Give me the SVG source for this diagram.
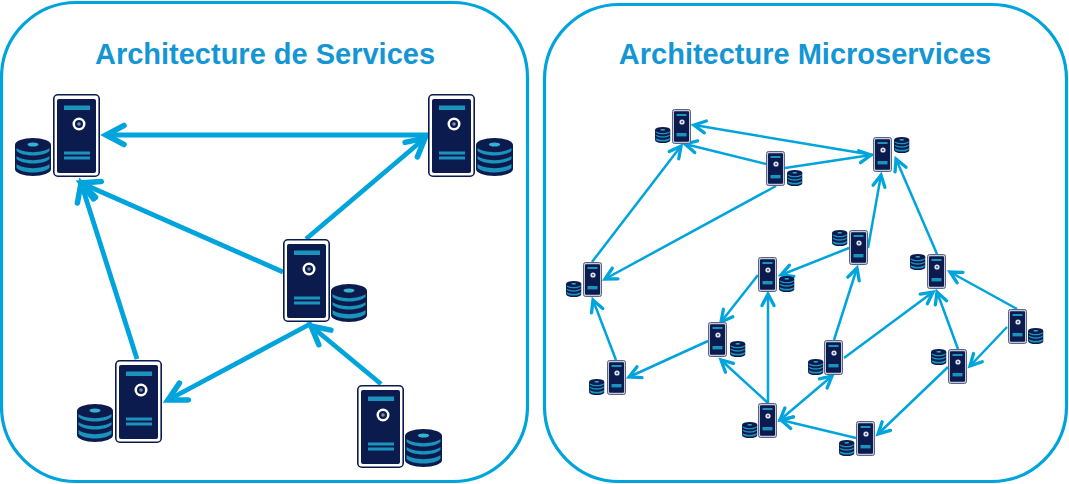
<svg xmlns="http://www.w3.org/2000/svg" width="1069" height="484" viewBox="0 0 1069 484">
<style>
.panel{fill:#fff;stroke:#00a4dc;stroke-width:3.2}
.title{font-family:"Liberation Sans",Arial,sans-serif;font-weight:bold;font-size:29px;fill:#1596d4;text-anchor:middle}
.big{fill:none;stroke:#00a4dc;stroke-width:4.8;marker-end:url(#hb)}
.sm{fill:none;stroke:#00a4dc;stroke-width:2.5;marker-end:url(#hs)}
.navy{fill:#0b1b4d}
.teal{fill:#1b93bd}
</style>
<defs>
<marker id="hb" markerUnits="userSpaceOnUse" markerWidth="30" markerHeight="30" refX="22" refY="15" orient="auto-start-reverse" viewBox="0 0 30 30">
<path d="M4 5.5L22 15L4 24.5" fill="none" stroke="#00a4dc" stroke-width="5.5" stroke-linecap="round"/>
</marker>
<marker id="hs" markerUnits="userSpaceOnUse" markerWidth="20" markerHeight="20" refX="13.5" refY="10" orient="auto-start-reverse" viewBox="0 0 20 20">
<path d="M2 4L13.5 10L2 16" fill="none" stroke="#00a4dc" stroke-width="3.3" stroke-linecap="round"/>
</marker>
<symbol id="srv" viewBox="0 0 47 83" preserveAspectRatio="none">
<rect x="0.8" y="0.8" width="45.4" height="81.4" rx="4" fill="#fff" stroke="#0b1b4d" stroke-width="1.6"/>
<rect x="4" y="5" width="39" height="74" rx="2" class="navy"/>
<rect x="11" y="11.5" width="26" height="4.5" class="teal"/>
<circle cx="26" cy="30" r="6.5" fill="#fff"/>
<circle cx="26" cy="30" r="4" class="navy"/>
<circle cx="26" cy="30" r="1.8" fill="#7d8fb0"/>
<rect x="11" y="57.5" width="26" height="3" class="teal"/>
<rect x="11" y="62.5" width="26" height="3" class="teal"/>
</symbol>
<symbol id="srvs" viewBox="0 0 19 35" preserveAspectRatio="none">
<rect x="0.5" y="0.5" width="18" height="34" rx="2" fill="#c3c8d8" stroke="#5a6388" stroke-width="1"/>
<rect x="2" y="2.2" width="15" height="30.6" rx="1" class="navy"/>
<rect x="4.5" y="5" width="10" height="2" class="teal"/>
<circle cx="10" cy="13" r="2.6" fill="#dfe3ec"/>
<circle cx="10" cy="13" r="1.1" fill="#4a5a85"/>
<rect x="4.5" y="24" width="10" height="3.4" class="teal"/>
</symbol>
<symbol id="db" viewBox="0 0 36 38" preserveAspectRatio="none">
<path d="M0 7V31A18 7 0 0 0 36 31V7Z" class="navy"/>
<ellipse cx="18" cy="7" rx="18" ry="7" class="navy"/>
<ellipse cx="18" cy="6.5" rx="5.5" ry="2" fill="#35b4cf"/>
<path d="M1.5 10C8 15.5 28 15.5 34.5 10V13C28 19 8 19 1.5 13Z" class="teal"/>
<path d="M1.5 18C8 23.5 28 23.5 34.5 18V21C28 27 8 27 1.5 21Z" class="teal"/>
<path d="M1.5 26C8 31.5 28 31.5 34.5 26V30C28 36 8 36 1.5 30Z" class="teal"/>
</symbol>
</defs>
<g id="panel-services">
<rect class="panel" x="1.5" y="2.5" width="526" height="479" rx="75"/>
<text class="title" x="265" y="63.5">Architecture de Services</text>
</g>
<g id="panel-microservices">
<rect class="panel" x="544.5" y="4.5" width="522" height="477" rx="75"/>
<text class="title" x="805" y="63.5">Architecture Microservices</text>
</g>
<g id="connectors">
<path class="big" d="M428 135H106"/>
<path class="big" d="M306 239L425 138"/>
<path class="big" d="M283 272L81 183"/>
<path class="big" d="M137 359L81 183"/>
<path class="big" d="M312 323L168 400"/>
<path class="big" d="M381 384L311 326"/>
<path class="sm" d="M873 155L694 125"/>
<path class="sm" d="M766 164L685 144"/>
<path class="sm" d="M592 262L681 146"/>
<path class="sm" d="M785 168L871 155"/>
<path class="sm" d="M776 186L605 279"/>
<path class="sm" d="M868 248L881 175"/>
<path class="sm" d="M937 254L896 159"/>
<path class="sm" d="M849 248L781 275"/>
<path class="sm" d="M758 275L721 322"/>
<path class="sm" d="M768 403V294"/>
<path class="sm" d="M708 341L629 377"/>
<path class="sm" d="M616 360L593 300"/>
<path class="sm" d="M834 340L857 268"/>
<path class="sm" d="M844 358L933 292"/>
<path class="sm" d="M958 349L937 292"/>
<path class="sm" d="M1017 309L950 272"/>
<path class="sm" d="M1007 327L970 366"/>
<path class="sm" d="M768 403L721 360"/>
<path class="sm" d="M780 420L832 376" marker-start="url(#hs)"/>
<path class="sm" d="M856 438L781 420"/>
<path class="sm" d="M948 367L878 434"/>
</g>
<g id="s1"><use href="#db" x="15" y="138" width="36" height="38"/><use href="#srv" x="53" y="94" width="47" height="83"/></g>
<g id="s2"><use href="#srv" x="428" y="94" width="47" height="83"/><use href="#db" x="476" y="138" width="37" height="38"/></g>
<g id="s3"><use href="#srv" x="283" y="239" width="47" height="83"/><use href="#db" x="331" y="284" width="36" height="38"/></g>
<g id="s4"><use href="#db" x="77" y="404" width="36" height="38"/><use href="#srv" x="115" y="360" width="47" height="83"/></g>
<g id="s5"><use href="#srv" x="357" y="385" width="47" height="83"/><use href="#db" x="405" y="429" width="37" height="38"/></g>
<g id="a"><use href="#db" x="655" y="127" width="15.5" height="16"/><use href="#srvs" x="672" y="109" width="19" height="35"/></g>
<g id="b"><use href="#srvs" x="766" y="151" width="19" height="35"/><use href="#db" x="787" y="170" width="15.5" height="16"/></g>
<g id="c"><use href="#srvs" x="873" y="137" width="19" height="35"/><use href="#db" x="894" y="137" width="15.5" height="16"/></g>
<g id="d"><use href="#db" x="832" y="230" width="15.5" height="16"/><use href="#srvs" x="849" y="230" width="19" height="35"/></g>
<g id="e"><use href="#srvs" x="758" y="257" width="19" height="35"/><use href="#db" x="779" y="276" width="15.5" height="16"/></g>
<g id="f"><use href="#db" x="566" y="281" width="15.5" height="16"/><use href="#srvs" x="583" y="262" width="19" height="35"/></g>
<g id="g"><use href="#db" x="910" y="254" width="15.5" height="16"/><use href="#srvs" x="927" y="254" width="19" height="35"/></g>
<g id="h"><use href="#srvs" x="708" y="322" width="19" height="35"/><use href="#db" x="730" y="341" width="15.5" height="16"/></g>
<g id="i"><use href="#db" x="589" y="379" width="15.5" height="16"/><use href="#srvs" x="607" y="360" width="19" height="35"/></g>
<g id="j"><use href="#db" x="808" y="359" width="15.5" height="16"/><use href="#srvs" x="824" y="340" width="19" height="35"/></g>
<g id="k"><use href="#db" x="931" y="349" width="15.5" height="16"/><use href="#srvs" x="948" y="349" width="19" height="35"/></g>
<g id="l"><use href="#srvs" x="1008" y="309" width="19" height="35"/><use href="#db" x="1028" y="328" width="15.5" height="16"/></g>
<g id="m"><use href="#db" x="742" y="422" width="15.5" height="16"/><use href="#srvs" x="758" y="403" width="19" height="35"/></g>
<g id="n"><use href="#db" x="839" y="440" width="15.5" height="16"/><use href="#srvs" x="856" y="421" width="19" height="35"/></g>
</svg>
